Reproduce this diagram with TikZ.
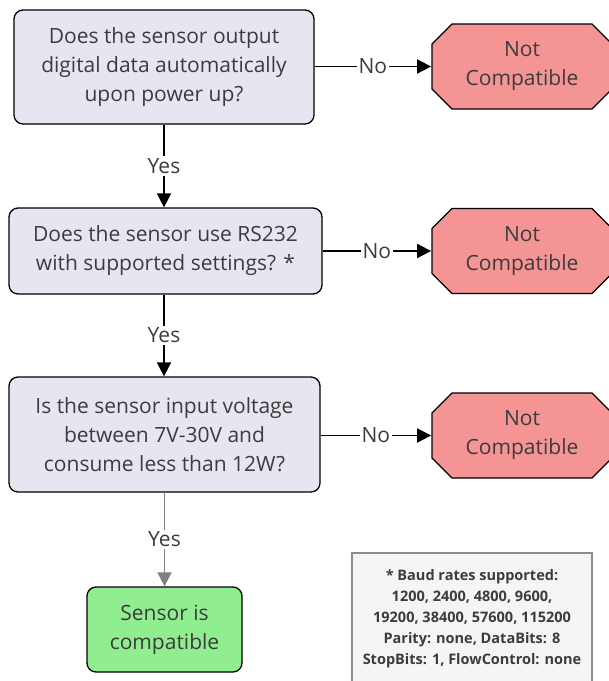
\documentclass[tikz,border=0pt]{standalone}
\usepackage{fontspec}
\setmainfont{Open Sans}
\usetikzlibrary{arrows.meta,positioning}
\definecolor{questionfill}{HTML}{E6E6F0}
\definecolor{rejectfill}{HTML}{F59494}
\definecolor{acceptfill}{HTML}{90EE90}
\definecolor{notefill}{HTML}{F5F5F5}
\definecolor{textgrey}{HTML}{3C3C3C}
\tikzset{%
  every question/.style={
    rectangle,
    rounded corners=9pt,
    draw=black,
    line width=1.3pt,
    fill=questionfill,
    align=center,
    text=textgrey,
    font=\fontsize{21}{29}\selectfont
  },
  reject/.style={
    rectangle,
    minimum width=180pt,
    minimum height=85pt,
    inner sep=0pt,
    align=center,
    text=textgrey,
    font=\fontsize{21}{29}\selectfont
  },
  reject outline/.style={
    draw=black,
    line width=1.3pt,
    fill=rejectfill
  },
  answer/.style={
    fill=white,
    inner sep=2pt,
    text=textgrey,
    font=\fontsize{21}{24}\selectfont
  },
}

\begin{document}
\begin{tikzpicture}[x=1pt, y=-1pt, >={Triangle[length=14pt,width=14pt]}, line width=1.8pt]
    \useasboundingbox (0,0) rectangle (609,681);
    \clip (0,0) rectangle (609,681);
    % questions
    \foreach \w/\h/\x/\y/\t [count=\i] in {
        300/114/164/67/{Does the sensor output\\digital data automatically\\upon power up?},
        313/86/165.5/251/{Does the sensor use RS232\\with supported settings? *},
        311/115/164.5/434.5/{Is the sensor input voltage\\between 7V-30V and\\consume less than 12W?}}
        \node [every question/.try, minimum width=\w pt, minimum height=\h pt] (question-\i) at (\x,\y) {\t};
    % not compatible
    \foreach \y [count=\i] in {66.5,251,435.5} {
        \draw [reject outline] (432,\y-22.5) -- ++(20,-20) -- ++(140,0) -- ++(20,20)
            -- ++(0,45) -- ++(-20,20) -- ++(-140,0) -- ++(-20,-20) -- cycle;
        \node [reject] (reject-\i) at (522,\y) {Not\\Compatible};
    }
    % compatible
    \node [every question/.try, fill=acceptfill, minimum width=155pt, minimum height=85pt] (accept) at (164.5,629.5) {Sensor is\\compatible};

    \foreach \i in {1,...,3}
        \draw [->] (question-\i.east |- reject-\i) -- node [answer] {No} (reject-\i.west);
    \draw [->] (question-1.south) -- node [answer] {Yes} (question-2.north -| question-1.south);
    \draw [->] (question-2.south -| question-1.south) -- node [answer] {Yes} (question-3.north -| question-1.south);
    \draw [->, draw=gray, fill=gray] (question-3.south) -- node [answer] {Yes} (accept.north);

    % note
    \draw [draw=gray!90, line width=1.5pt, fill=notefill] (352,553) rectangle (592,690);
    \node [text=textgrey, align=center, font=\fontsize{14.5}{21}\selectfont\bfseries] (note) at (472,619)
        {* Baud rates supported:\\1200, 2400, 4800, 9600,\\19200, 38400, 57600, 115200\\Parity: none, DataBits: 8\\StopBits: 1, FlowControl: none};
\end{tikzpicture}
\end{document}
